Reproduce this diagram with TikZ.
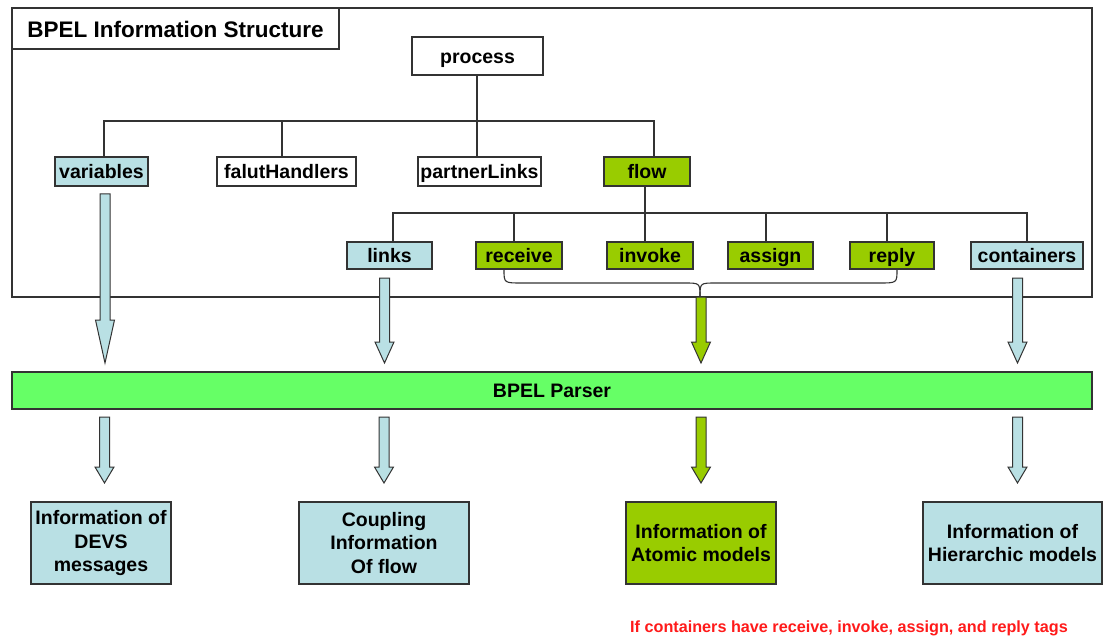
\documentclass[tikz,border=0pt]{standalone}
\usepackage{fontspec}
\setmainfont{Liberation Sans}
\definecolor{paleblue}{HTML}{B9E0E4}
\definecolor{leafgreen}{HTML}{99CC00}
\definecolor{parsergreen}{HTML}{66FF66}
\definecolor{edge}{HTML}{333333}
\definecolor{notered}{HTML}{FF1A1A}
% hollow block arrow: fill, centre x, top y, head start y, tip y
\newcommand\blockarrow[5]{%
  \filldraw[arrowline, fill=#1] (#2-5,#3) -- (#2+5,#3) -- (#2+5,#4) -- (#2+9.5,#4)
    -- (#2,#5) -- (#2-9.5,#4) -- (#2-5,#4) -- cycle;}
\begin{document}
\begin{tikzpicture}[x=1pt,y=-1pt,
  box/.style={draw=edge, line width=1.1pt, inner sep=0pt, align=center,
    font=\fontsize{19.5}{23.5}\selectfont\bfseries},
  oneline/.style={text height=16.5pt, text depth=2pt},
  plainbox/.style={box, oneline, fill=white},
  bluebox/.style={box, oneline, fill=paleblue},
  greenbox/.style={box, oneline, fill=leafgreen},
  bluecard/.style={box, fill=paleblue},
  greencard/.style={box, fill=leafgreen},
  wire/.style={draw=edge, line width=1.1pt},
  arrowline/.style={draw=edge, line width=1pt, line join=miter}]
\useasboundingbox (0,0) rectangle (1103,639);

% outer frame of the information structure
\draw[wire, fill=white] (12,8) rectangle (1092,297);
\node[plainbox, minimum width=327pt, minimum height=41pt, text height=20pt, text depth=2pt,
  font=\fontsize{22.5}{26}\selectfont\bfseries] (title) at (175.5,28.5) {BPEL Information Structure};

% first level
\node[plainbox, minimum width=131pt, minimum height=38pt] (process) at (477.5,56) {process};
\node[bluebox,  minimum width=93pt,  minimum height=29pt] (variables) at (101.5,171.5) {variables};
\node[plainbox, minimum width=139pt, minimum height=29pt] (falut) at (286.5,171.5) {falutHandlers};
\node[plainbox, minimum width=123pt, minimum height=29pt] (partner) at (479.5,171.5) {partnerLinks};
\node[greenbox, minimum width=86pt,  minimum height=29pt] (flow) at (647,171.5) {flow};

% second level
\node[bluebox,  minimum width=85pt,  minimum height=27pt] (links) at (389.5,255.5) {links};
\node[greenbox, minimum width=86pt,  minimum height=27pt] (receive) at (519,255.5) {receive};
\node[greenbox, minimum width=86pt,  minimum height=27pt] (invoke) at (650,255.5) {invoke};
\node[greenbox, minimum width=85pt,  minimum height=27pt] (assign) at (770.5,255.5) {assign};
\node[greenbox, minimum width=84pt,  minimum height=27pt] (reply) at (892,255.5) {reply};
\node[bluebox,  minimum width=112pt, minimum height=27pt] (containers) at (1027,255.5) {containers};

% tree wiring, first level
\coordinate (b0) at (104,121);
\coordinate (b1) at (282,121);
\coordinate (b2) at (477,121);
\coordinate (b3) at (654,121);
\draw[wire] (b2 |- process.south) -- (b2 |- partner.north);
\draw[wire] (b0 |- variables.north) -- (b0) -- (b3) -- (b3 |- flow.north);
\draw[wire] (b1) -- (b1 |- falut.north);

% tree wiring, second level
\coordinate (c0) at (393,213);
\coordinate (c1) at (514,213);
\coordinate (c2) at (645,213);
\coordinate (c3) at (766,213);
\coordinate (c4) at (887,213);
\coordinate (c5) at (1027,213);
\draw[wire] (c2 |- flow.south) -- (c2);
\draw[wire] (c0 |- links.north) -- (c0) -- (c5) -- (c5 |- containers.north);
\draw[wire] (c1) -- (c1 |- receive.north);
\draw[wire] (c2) -- (c2 |- invoke.north);
\draw[wire] (c3) -- (c3 |- assign.north);
\draw[wire] (c4) -- (c4 |- reply.north);

% brace gathering receive .. reply
\coordinate (tip) at (700,297);
\draw[wire] ([xshift=-15pt]receive.south) .. controls (504,283) .. (522,283)
  -- (684,283) .. controls (700,283) .. (tip);
\draw[wire] ([xshift=5pt]reply.south) .. controls (897,283) .. (879,283)
  -- (716,283) .. controls (700,283) .. (tip);

% parser bar
\node[box, oneline, fill=parsergreen, minimum width=1080pt, minimum height=37pt] (parser) at (552,390.5) {BPEL Parser};

% arrows into the parser
\blockarrow{paleblue}{105}{194}{320}{363}
\blockarrow{paleblue}{384.5}{278}{342}{363}
\blockarrow{leafgreen}{701}{297}{342}{363}
\blockarrow{paleblue}{1017.5}{278}{342}{363}

% arrows out of the parser
\blockarrow{paleblue}{104.5}{417}{467}{483}
\blockarrow{paleblue}{384}{417}{467}{483}
\blockarrow{leafgreen}{701}{417}{467}{483}
\blockarrow{paleblue}{1017.5}{417}{467}{483}

% results
\node[bluecard,  minimum width=140pt, minimum height=82pt] (devs) at (101,543) {Information of\\DEVS\\messages};
\node[bluecard,  minimum width=170pt, minimum height=82pt] (coupling) at (384,543) {Coupling\\Information\\Of flow};
\node[greencard, minimum width=150pt, minimum height=82pt] (atomic) at (701,543) {Information of\\Atomic models};
\node[bluecard,  minimum width=179pt, minimum height=82pt] (hier) at (1012.5,543) {Information of\\Hierarchic models};

\node[text=notered, font=\fontsize{16.2}{19}\selectfont\bfseries] (note) at (849,628)
  {If containers have receive, invoke, assign, and reply tags};
\end{tikzpicture}
\end{document}
